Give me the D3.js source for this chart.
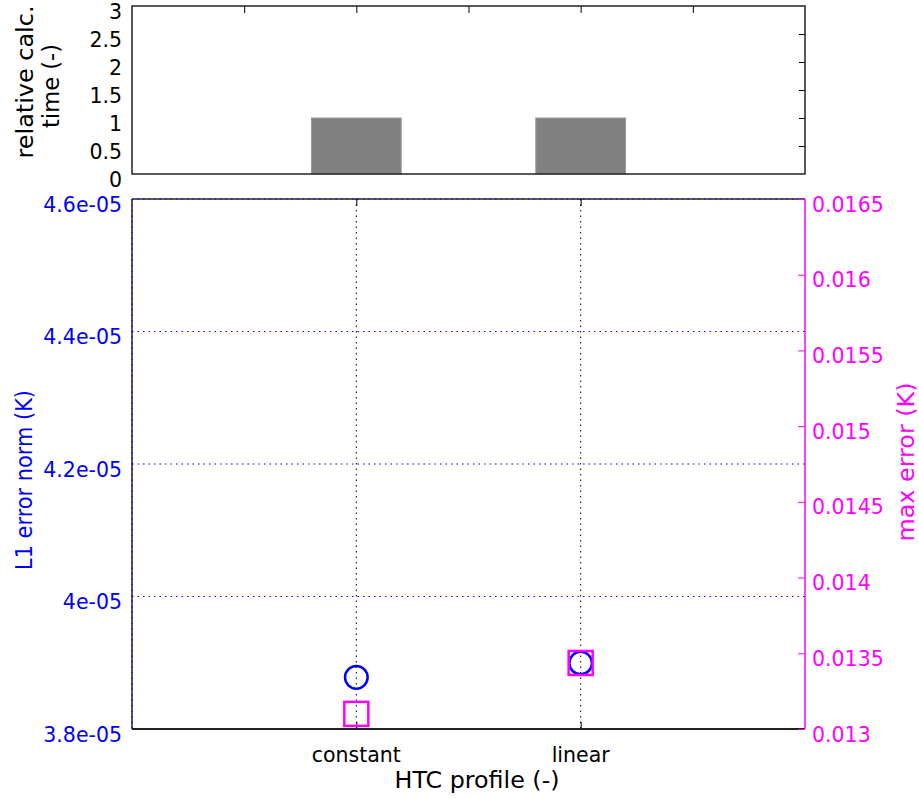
<!DOCTYPE html>
<html>
<head>
<meta charset="utf-8">
<script src="https://cdn.jsdelivr.net/npm/d3@7"></script>
<style>
  body { margin: 0; background: #fff; }
  svg text { font-family: "DejaVu Sans", sans-serif; }
</style>
</head>
<body>
<svg id="chart" width="919" height="798"></svg>
<script>
// --- DATA ---
const profiles = ["constant", "linear"];
const profilePos = [2, 4];
const calcTime = [1, 1];
const l1Error = [3.878e-5, 3.8996e-5];
const maxError = [0.01310, 0.013436];
const timeTicks = [0, 0.5, 1, 1.5, 2, 2.5, 3];
const l1Ticks = [3.8e-5, 4.0e-5, 4.2e-5, 4.4e-5, 4.6e-5];
const l1TickLabels = ["3.8e-05", "4e-05", "4.2e-05", "4.4e-05", "4.6e-05"];
const maxTicks = [0.013, 0.0135, 0.014, 0.0145, 0.015, 0.0155, 0.016, 0.0165];

const svg = d3.select("#chart");
const left = 132, right = 805;
const blue = "#0000ff", mag = "#ff00ff";
const fs = "20.5px";      // tick labels
const tfs = "22.5px";     // axis titles
const labDy = "12.5px";   // matlab-ish label offset below the tick

const x = d3.scaleLinear().domain([0, 6]).range([left, right]);

// axis title helper: stretched to the width seen in the reference
function title(g, tx, ty, rot, len, txt, color) {
  return g.append("text")
    .attr("transform", `translate(${tx},${ty}) rotate(${rot})`)
    .attr("text-anchor", "middle")
    .attr("font-size", tfs)
    .attr("fill", color)
    .attr("textLength", len)
    .attr("lengthAdjust", "spacingAndGlyphs")
    .text(txt);
}

// --- TOP: relative calc. time ---
const yTop = d3.scaleLinear().domain([0, 3]).range([174, 6]);
const topG = svg.append("g");

topG.selectAll(".bar")
  .data(calcTime)
  .join("rect")
  .attr("x", (d, i) => x(profilePos[i] - 0.4))
  .attr("width", x(0.8) - x(0))
  .attr("y", d => yTop(d))
  .attr("height", d => yTop(0) - yTop(d))
  .attr("fill", "#808080")
  .attr("stroke", "#999")
  .attr("stroke-width", 1);

// right inner ticks
topG.append("g")
  .attr("transform", `translate(${right},0)`)
  .call(d3.axisLeft(yTop).tickValues(timeTicks.slice(1, -1)).tickSize(6).tickFormat(""))
  .call(g => g.select(".domain").remove())
  .call(g => g.selectAll("line").attr("stroke", "#000"));

// top inner ticks
topG.append("g")
  .attr("transform", `translate(0,${yTop(3)})`)
  .call(d3.axisBottom(x).tickValues([1, 2, 3, 4, 5]).tickSize(7).tickFormat(""))
  .call(g => g.select(".domain").remove());

// left labels
topG.append("g")
  .selectAll("text")
  .data(timeTicks)
  .join("text")
  .attr("x", 122)
  .attr("y", d => yTop(d))
  .attr("dy", labDy)
  .attr("text-anchor", "end")
  .attr("font-size", fs)
  .text(d => d3.format("~g")(d));

topG.append("rect")
  .attr("x", left).attr("y", yTop(3))
  .attr("width", right - left).attr("height", yTop(0) - yTop(3))
  .attr("fill", "none").attr("stroke", "#222").attr("stroke-width", 1.5);

title(topG, 33, 82, -90, 153, "relative calc.", "#000");
title(topG, 59, 86, -90, 84, "time (-)", "#000");

// --- BOTTOM: errors ---
const bTop = 199, bBot = 729;
const yL = d3.scaleLinear().domain([3.8e-5, 4.6e-5]).range([bBot, bTop]);
const yR = d3.scaleLinear().domain([0.013, 0.0165]).range([bBot, bTop]);
const botG = svg.append("g");

// frame
botG.append("line").attr("x1", left).attr("x2", right).attr("y1", bTop).attr("y2", bTop)
  .attr("stroke", "#222").attr("stroke-width", 1.5);
botG.append("line").attr("x1", left).attr("x2", left).attr("y1", bTop).attr("y2", bBot)
  .attr("stroke", "#222").attr("stroke-width", 1.5);

// horizontal blue dotted grid (left axis)
botG.append("g")
  .selectAll("line")
  .data(l1Ticks.slice(1))
  .join("line")
  .attr("x1", left).attr("x2", right)
  .attr("y1", d => yL(d)).attr("y2", d => yL(d))
  .attr("stroke", blue).attr("stroke-width", 1).attr("stroke-dasharray", "1.5,4");
botG.append("line").attr("x1", left).attr("x2", left).attr("y1", bTop).attr("y2", bBot)
  .attr("stroke", blue).attr("stroke-width", 1.2).attr("stroke-dasharray", "1.5,4");

// vertical black dotted grid
botG.append("g")
  .selectAll("line")
  .data(profilePos)
  .join("line")
  .attr("x1", d => x(d)).attr("x2", d => x(d))
  .attr("y1", bTop).attr("y2", bBot)
  .attr("stroke", "#000").attr("stroke-width", 1).attr("stroke-dasharray", "1.5,4");

// x ticks top & bottom
botG.append("g")
  .attr("transform", `translate(0,${bTop})`)
  .call(d3.axisBottom(x).tickValues(profilePos).tickSize(7).tickFormat(""))
  .call(g => g.select(".domain").remove());
botG.append("g")
  .attr("transform", `translate(0,${bBot})`)
  .call(d3.axisTop(x).tickValues(profilePos).tickSize(7).tickFormat(""))
  .call(g => g.select(".domain").remove());

// bottom axis line
botG.append("line").attr("x1", left).attr("x2", right).attr("y1", bBot).attr("y2", bBot)
  .attr("stroke", "#222").attr("stroke-width", 2);

// x labels
botG.append("g")
  .selectAll("text")
  .data(profiles)
  .join("text")
  .attr("x", (d, i) => x(profilePos[i]))
  .attr("y", 762)
  .attr("text-anchor", "middle")
  .attr("font-size", fs)
  .text(d => d);
botG.append("text")
  .attr("x", 477).attr("y", 788)
  .attr("text-anchor", "middle")
  .attr("font-size", tfs)
  .attr("textLength", 165)
  .attr("lengthAdjust", "spacingAndGlyphs")
  .text("HTC profile (-)");

// left axis labels
botG.append("g")
  .selectAll("text")
  .data(l1Ticks)
  .join("text")
  .attr("x", 122)
  .attr("y", d => yL(d))
  .attr("dy", labDy)
  .attr("text-anchor", "end")
  .attr("font-size", fs)
  .attr("fill", blue)
  .text((d, i) => l1TickLabels[i]);
title(botG, 32, 480, -90, 180, "L1 error norm (K)", blue);

// right axis (magenta)
botG.append("g")
  .attr("transform", `translate(${right},0)`)
  .call(d3.axisLeft(yR).tickValues(maxTicks).tickSize(7).tickFormat(""))
  .call(g => g.select(".domain").remove())
  .call(g => g.selectAll("line").attr("stroke", mag));
botG.append("line").attr("x1", right).attr("x2", right).attr("y1", bTop).attr("y2", bBot)
  .attr("stroke", mag).attr("stroke-width", 1.5);
botG.append("g")
  .selectAll("text")
  .data(maxTicks)
  .join("text")
  .attr("x", 812)
  .attr("y", d => yR(d))
  .attr("dy", labDy)
  .attr("font-size", fs)
  .attr("fill", mag)
  .text(d => d3.format("~g")(d));
title(botG, 914, 462, -90, 159, "max error (K)", mag);

// markers
botG.append("g")
  .selectAll("circle")
  .data(l1Error)
  .join("circle")
  .attr("cx", (d, i) => x(profilePos[i]))
  .attr("cy", d => yL(d))
  .attr("r", 11.3)
  .attr("fill", "none")
  .attr("stroke", blue)
  .attr("stroke-width", 2.5);

const sq = 24;
botG.append("g")
  .selectAll("rect")
  .data(maxError)
  .join("rect")
  .attr("x", (d, i) => x(profilePos[i]) - sq / 2)
  .attr("y", d => yR(d) - sq / 2)
  .attr("width", sq).attr("height", sq)
  .attr("fill", "none")
  .attr("stroke", mag)
  .attr("stroke-width", 2.5);
</script>
</body>
</html>
